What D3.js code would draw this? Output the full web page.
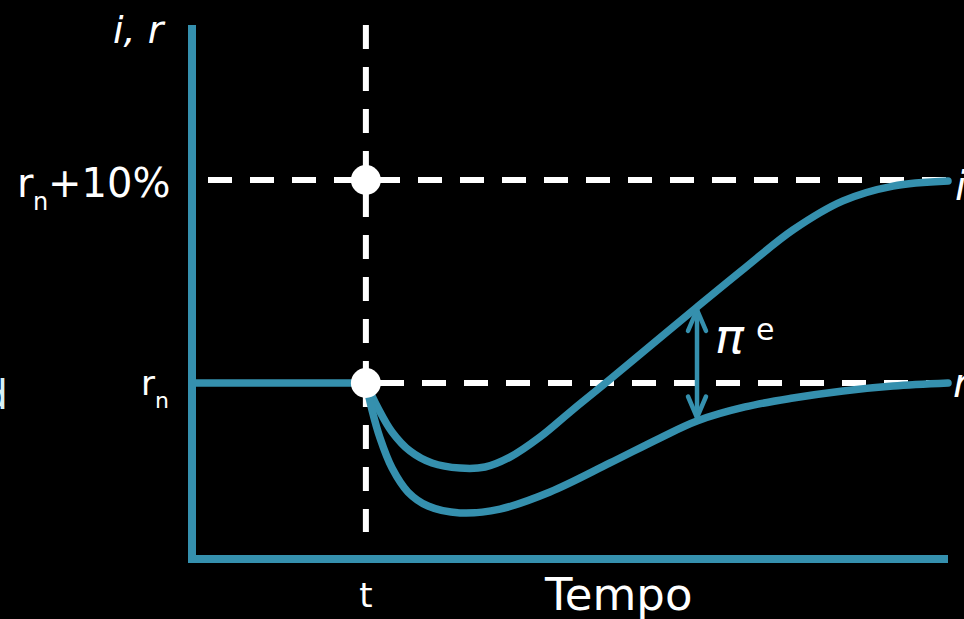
<!DOCTYPE html>
<html><head><meta charset="utf-8">
<script src="https://cdn.jsdelivr.net/npm/d3@7"></script>
<style>html,body{margin:0;padding:0;background:#000;}svg{display:block;}</style>
</head><body>
<svg id="c" width="964" height="619"></svg>
<script>
// ---- data (time units 0..100, rate in % relative to r_n) ----
const tShock = 23;
const levels = [0, 10];                 // r_n, r_n+10%
const rBeforeTime = [0, 23];
const rBeforeVal  = [0, 0];
const iTime = [23.02, 24.6, 26.46, 28.84, 31.75, 35.45, 38.76, 42.06, 46.03, 50.0, 54.37, 60.58, 66.8, 73.15, 79.5, 86.11, 92.72, 100];
const iVal  = [0, -1.23, -2.41, -3.35, -3.94, -4.19, -4.14, -3.65, -2.66, -1.43, -0.1, 1.82, 3.74, 5.67, 7.54, 8.97, 9.7, 9.95];
const rTime = [23.02, 23.81, 24.87, 26.46, 28.57, 31.22, 35.45, 40.74, 47.35, 55.29, 61.9, 66.8, 73.15, 79.5, 86.11, 92.72, 100];
const rVal  = [0, -1.33, -2.71, -4.19, -5.37, -6.06, -6.4, -6.21, -5.37, -3.94, -2.71, -1.87, -1.18, -0.74, -0.39, -0.15, 0];
const arrowTime = 66.8;
const arrowVals = [3.6, -1.7];

const teal = "#3590ae";
const svg = d3.select("#c");
const x = d3.scaleLinear().domain([0, 100]).range([192, 948]);
const y = d3.scaleLinear().domain([0, 10]).range([383, 180]);
const font = "'DejaVu Sans', sans-serif";

// dashed reference lines
const dash = "24,18";
svg.append("line").attr("x1", 208).attr("x2", x(100)).attr("y1", y(10)).attr("y2", y(10))
  .attr("stroke", "#fff").attr("stroke-width", 6).attr("stroke-dasharray", dash);
svg.append("line").attr("x1", 380).attr("x2", x(100)).attr("y1", y(0)).attr("y2", y(0))
  .attr("stroke", "#fff").attr("stroke-width", 6).attr("stroke-dasharray", dash);
svg.append("line").attr("x1", x(tShock)).attr("x2", x(tShock)).attr("y1", 25).attr("y2", y(0))
  .attr("stroke", "#fff").attr("stroke-width", 6).attr("stroke-dasharray", dash);
svg.append("line").attr("x1", x(tShock)).attr("x2", x(tShock)).attr("y1", y(0)).attr("y2", 532)
  .attr("stroke", "#fff").attr("stroke-width", 6).attr("stroke-dasharray", dash);

// curves
const line = d3.line().x(d => x(d[0])).y(d => y(d[1])).curve(d3.curveCatmullRom.alpha(0.5));
const lin = d3.line().x(d => x(d[0])).y(d => y(d[1]));
svg.append("path").attr("d", lin(d3.zip(rBeforeTime, rBeforeVal)))
  .attr("fill", "none").attr("stroke", teal).attr("stroke-width", 7.5);
svg.append("path").attr("d", line(d3.zip(iTime, iVal)))
  .attr("fill", "none").attr("stroke", teal).attr("stroke-width", 7.5).attr("stroke-linecap", "round");
svg.append("path").attr("d", line(d3.zip(rTime, rVal)))
  .attr("fill", "none").attr("stroke", teal).attr("stroke-width", 7.5).attr("stroke-linecap", "round");

// axes
svg.append("line").attr("x1", 192).attr("x2", 192).attr("y1", 25).attr("y2", 559)
  .attr("stroke", teal).attr("stroke-width", 8);
svg.append("line").attr("x1", 188).attr("x2", 948).attr("y1", 559).attr("y2", 559)
  .attr("stroke", teal).attr("stroke-width", 8);

// dots
svg.selectAll("circle.dot").data(levels).join("circle").attr("class", "dot")
  .attr("cx", x(tShock)).attr("cy", d => y(d)).attr("r", 15).attr("fill", "#fff");

// arrow
const ax = x(arrowTime), ay1 = y(arrowVals[0]), ay2 = y(arrowVals[1]);
svg.append("line").attr("x1", ax).attr("x2", ax).attr("y1", ay1).attr("y2", ay2)
  .attr("stroke", teal).attr("stroke-width", 4.5);
svg.append("path").attr("d", `M${ax-9},${ay1+21} L${ax},${ay1} L${ax+9},${ay1+21}`)
  .attr("fill", "none").attr("stroke", teal).attr("stroke-width", 4.5).attr("stroke-linecap", "round").attr("stroke-linejoin", "round");
svg.append("path").attr("d", `M${ax-9},${ay2-21} L${ax},${ay2} L${ax+9},${ay2-21}`)
  .attr("fill", "none").attr("stroke", teal).attr("stroke-width", 4.5).attr("stroke-linecap", "round").attr("stroke-linejoin", "round");

// text
function t(txt, px, py, size, opts = {}) {
  return svg.append("text").attr("x", px).attr("y", py).text(txt)
    .attr("font-family", font).attr("font-size", size).attr("fill", opts.fill || "#fff")
    .attr("font-style", opts.italic ? "italic" : "normal")
    .attr("font-weight", opts.bold ? "bold" : "normal")
    .attr("text-anchor", opts.anchor || "start");
}
t("i, r", 113, 43, 38, {italic: true});
// r_n+10%
t("r", 17, 197, 40);
t("n", 33, 210, 24);
t("+10%", 48, 197, 40);
// r_n
t("r", 141, 395, 34);
t("n", 155, 408, 22);
t("t", x(tShock), 607, 34, {anchor: "middle"});
t("Tempo", 545, 610, 45);
t("π", 715, 353, 48, {italic: true});
t("e", 756, 340, 30);
t("i", 955, 200, 40, {italic: true});
t("r", 953, 397, 40, {italic: true});
t("d", 8, 409, 40, {anchor: "end", fill: "#d6f2f8"});
</script>
</body></html>
